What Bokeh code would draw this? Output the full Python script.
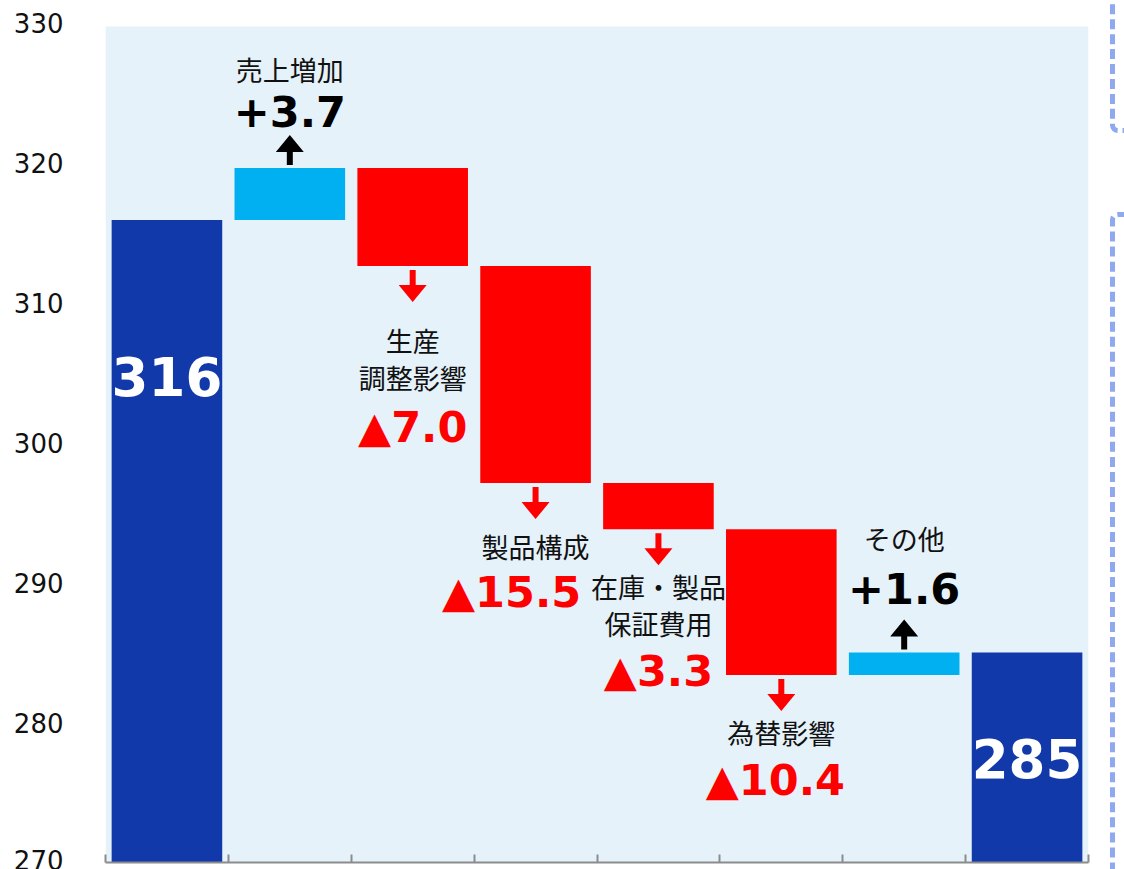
from bokeh.plotting import figure
from bokeh.models import Range1d, FixedTicker, BoxAnnotation, Div
from bokeh.layouts import row
from bokeh.core.properties import value
from bokeh.embed import file_html
from bokeh.resources import INLINE

# ---------------- data ----------------
start_total = 315.9
step_labels = ["売上増加", "生産\n調整影響", "製品構成", "在庫・製品\n保証費用", "為替影響", "その他"]
step_values = [3.7, -7.0, -15.5, -3.3, -10.4, 1.6]
total_labels = ["316", "285"]
y_ticks = [270, 280, 290, 300, 310, 320, 330]

# ---------------- layout / style ----------------
LEFT, RIGHT, TOP, BOTTOM = 105, 12, 22, 7
FW, FH = 983, 840
TOTAL_C, UP_C, DOWN_C = "#1139A9", "#00B0F0", "#FF0000"
BG_C = "#E5F2FA"
DASH_C = "#8EA9F0"
name_dy = [-99, 93, 63, 76, 58, -114]      # px from bar end
value_dy = [-57, 161, 109, 142, 105, -64]
value_dx = [0, 0, -24, 0, -6, 0]
total_dy = [157, 106]                       # px below bar top

n = len(step_values) + 2
kx = n / FW                     # data units per px (x)
ky = (y_ticks[-1] - y_ticks[0]) / FH   # data units per px (y)
x_centers = [i + 0.5 for i in range(n)]
end_total = round(start_total + sum(step_values), 1)

bottoms, tops, colors = [0], [start_total], [TOTAL_C]
anchor_y = []
level = start_total
for d in step_values:
    new = level + d
    bottoms.append(min(level, new))
    tops.append(max(level, new))
    colors.append(UP_C if d > 0 else DOWN_C)
    anchor_y.append(max(level, new) if d > 0 else min(level, new))
    level = new
bottoms.append(0)
tops.append(end_total)
colors.append(TOTAL_C)

p = figure(width=LEFT + FW + RIGHT, height=TOP + FH + BOTTOM, title=None,
           x_range=Range1d(0, n), y_range=Range1d(y_ticks[0], y_ticks[-1]),
           output_backend="svg", toolbar_location=None,
           min_border_left=LEFT, min_border_right=RIGHT,
           min_border_top=TOP, min_border_bottom=BOTTOM)
p.outline_line_color = None
p.background_fill_color = "white"
p.border_fill_color = "white"
p.xgrid.visible = False
p.ygrid.visible = False
p.add_layout(BoxAnnotation(top=y_ticks[-1] - 4 * ky, fill_color=BG_C, fill_alpha=1,
                           line_color=None, level="underlay"))

# y axis
p.yaxis.ticker = FixedTicker(ticks=y_ticks)
p.yaxis.axis_line_color = None
p.yaxis.major_tick_line_color = None
p.yaxis.minor_tick_line_color = None
p.yaxis.major_tick_in = 0
p.yaxis.major_tick_out = 0
p.yaxis.major_label_standoff = 42
p.yaxis.major_label_text_font = "DejaVu Sans"
p.yaxis.major_label_text_font_size = "26px"
p.yaxis.major_label_text_color = "#111111"

# x axis (tick marks between categories, no labels)
p.xaxis.ticker = FixedTicker(ticks=list(range(n + 1)))
p.xaxis.major_label_overrides = {i: "" for i in range(n + 1)}
p.xaxis.axis_line_color = "#8C8C8C"
p.xaxis.axis_line_width = 2
p.xaxis.major_tick_line_color = "#8C8C8C"
p.xaxis.major_tick_line_width = 2
p.xaxis.major_tick_in = 8
p.xaxis.major_tick_out = 0
p.xaxis.minor_tick_line_color = None
p.xaxis.major_label_text_font_size = "10px"
p.xaxis.major_label_standoff = 0

# bars
p.vbar(x=x_centers, width=0.9, bottom=bottoms, top=tops,
       fill_color=colors, line_color=None)

# arrows
axs, ays = [], []
sw, hw, hh = 6 * kx, 28 * kx, 17 * ky
for i, d in enumerate(step_values):
    cx = x_centers[i + 1]
    y0 = anchor_y[i]
    if d > 0:
        s, gap, length = 1, 3, 30
    else:
        s, gap, length = -1, 4, 32
    base = y0 + s * gap * ky
    tip = y0 + s * (gap + length) * ky
    neck = tip - s * hh
    axs.append([cx - sw / 2, cx + sw / 2, cx + sw / 2, cx + hw / 2, cx,
                cx - hw / 2, cx - sw / 2])
    ays.append([base, base, neck, neck, tip, neck, neck])
arrow_colors = ["#000000" if d > 0 else DOWN_C for d in step_values]
p.patches(axs, ays, fill_color=arrow_colors, line_color=None)

# step names
p.text(x=x_centers[1:-1], y=anchor_y, text=step_labels, y_offset=name_dy,
       text_align="center", text_baseline="middle",
       text_font=value("Noto Sans CJK JP"), text_font_size="27px",
       text_color="#111111", text_line_height=0.94)

# step values
value_texts = [("+%.1f" % d) if d > 0 else ("▲%.1f" % abs(d)) for d in step_values]
p.text(x=x_centers[1:-1], y=anchor_y, text=value_texts,
       x_offset=value_dx, y_offset=value_dy,
       text_align="center", text_baseline="middle",
       text_font=value("DejaVu Sans"), text_font_style="bold",
       text_font_size="43px", text_color=arrow_colors)

# totals
p.text(x=[x_centers[0], x_centers[-1]], y=[tops[0], tops[-1]], text=total_labels,
       y_offset=total_dy, text_align="center", text_baseline="middle",
       text_font=value("DejaVu Sans"), text_font_style="bold",
       text_font_size="53px", text_color="white")

# decorative dashed frame edges of neighbouring boxes on the right
H = TOP + FH + BOTTOM
box = ("position:absolute;left:10px;width:60px;border:5px dashed %s;"
       "border-radius:8px;box-sizing:border-box;" % DASH_C)
deco = Div(width=24, height=H, margin=0,
           text=('<div style="position:relative;width:24px;height:%dpx;overflow:hidden;">'
                 '<div style="%stop:-30px;height:163px;"></div>'
                 '<div style="%stop:212px;height:720px;"></div></div>') % (H, box, box))

layout = row(p, deco, spacing=0)
open("out.html", "w").write(file_html(layout, INLINE))
